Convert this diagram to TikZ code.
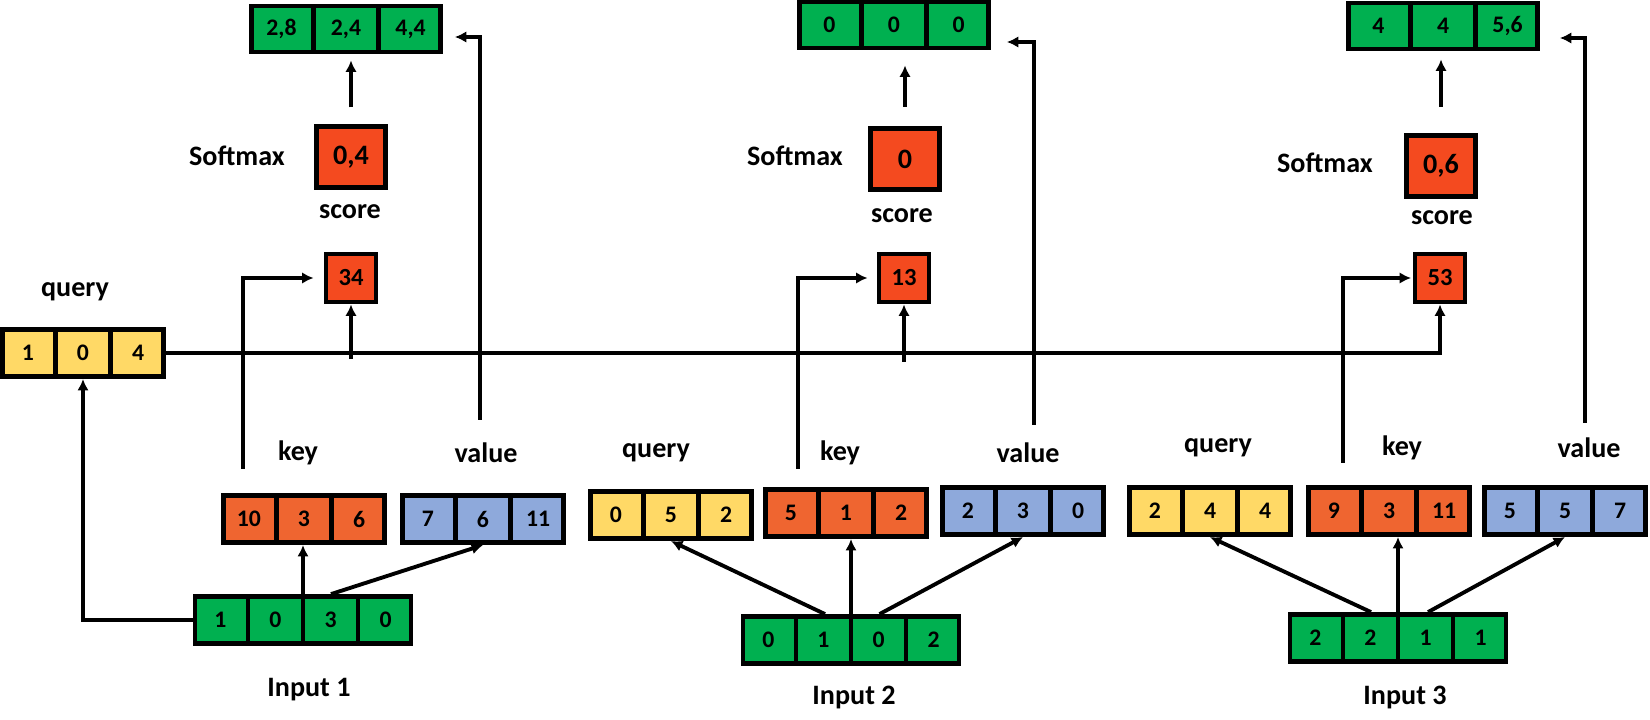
\documentclass[tikz,border=0pt]{standalone}
\usepackage{fontspec}
\setmainfont{Carlito}
\usepackage{xcolor}
\usepackage{tikz}
\usetikzlibrary{arrows.meta,shapes.multipart,calc}
\definecolor{qyellow}{HTML}{FFD966}
\definecolor{kred}{HTML}{EF6530}
\definecolor{sred}{HTML}{F44A1F}
\definecolor{vblue}{HTML}{8EA9DB}
\definecolor{ingreen}{HTML}{00B050}

\begin{document}
\begin{tikzpicture}[
x=0.02cm, y=-0.02cm,
vec/.style={rectangle split, rectangle split horizontal, rectangle split parts=3, draw, line width=2.6pt, fill=#1, inner xsep=0.01cm, inner ysep=0pt, text width=0.99cm, align=center, minimum height=0.95cm, font=\bfseries\fontsize{13.5}{16}\selectfont},
invec/.style={vec=ingreen, rectangle split parts=4, minimum height=0.945cm},
outvec/.style={vec=ingreen, text width=1.18cm, minimum height=0.925cm},
scorebox/.style={draw, line width=2.6pt, fill=sred, minimum width=1.005cm, minimum height=0.965cm, inner sep=0pt, font=\bfseries\fontsize{14}{16}\selectfont},
softbox/.style={scorebox, minimum width=1.39cm, minimum height=1.23cm, font=\bfseries\fontsize{16}{18}\selectfont},
lbl/.style={font=\bfseries\fontsize{16}{19}\selectfont, inner sep=0pt},
arr/.style={-{Latex[length=6.5pt,width=6.5pt]}, line width=2.2pt}
]
\useasboundingbox (0,0) rectangle (1650,720);

\node[vec=qyellow] (q1) at (83,353) {1\nodepart{two}0\nodepart{three}4};
\node[vec=kred] (k1) at (304,519) {10\nodepart{two}3\nodepart{three}6};
\node[vec=vblue] (v1) at (483,519) {7\nodepart{two}6\nodepart{three}11};
\node[invec] (in1) at (303,620) {1\nodepart{two}0\nodepart{three}3\nodepart{four}0};
\node[scorebox] (s1) at (351,278) {34};
\node[softbox] (sm1) at (351,157) {0,4};
\node[outvec] (o1) at (346,29) {2,8\nodepart{two}2,4\nodepart{three}4,4};
\node[lbl] (q1l) at (75,292) {query};
\node[lbl] (k1l) at (298,453) {key};
\node[lbl] (v1l) at (486,453) {value};
\node[lbl] (s1l) at (350,212) {score};
\node[lbl] (sm1l) at (237,156) {Softmax};
\node[lbl] (in1l) at (309,690) {Input 1};

\node[vec=qyellow] (q2) at (671,515) {0\nodepart{two}5\nodepart{three}2};
\node[vec=kred] (k2) at (846,513) {5\nodepart{two}1\nodepart{three}2};
\node[vec=vblue] (v2) at (1023,511) {2\nodepart{two}3\nodepart{three}0};
\node[invec] (in2) at (851,640) {0\nodepart{two}1\nodepart{three}0\nodepart{four}2};
\node[scorebox] (s2) at (904,278) {13};
\node[softbox] (sm2) at (905,159) {0};
\node[outvec] (o2) at (894,25) {0\nodepart{two}0\nodepart{three}0};
\node[lbl] (q2l) at (656,453) {query};
\node[lbl] (k2l) at (840,453) {key};
\node[lbl] (v2l) at (1028,453) {value};
\node[lbl] (s2l) at (902,216) {score};
\node[lbl] (sm2l) at (795,156) {Softmax};
\node[lbl] (in2l) at (854,697) {Input 2};

\node[vec=qyellow] (q3) at (1210,511) {2\nodepart{two}4\nodepart{three}4};
\node[vec=kred] (k3) at (1389,511) {9\nodepart{two}3\nodepart{three}11};
\node[vec=vblue] (v3) at (1565,511) {5\nodepart{two}5\nodepart{three}7};
\node[invec] (in3) at (1398,638) {2\nodepart{two}2\nodepart{three}1\nodepart{four}1};
\node[scorebox] (s3) at (1440,278) {53};
\node[softbox] (sm3) at (1441,166) {0,6};
\node[outvec] (o3) at (1443,26) {4\nodepart{two}4\nodepart{three}5,6};
\node[lbl] (q3l) at (1218,448) {query};
\node[lbl] (k3l) at (1402,448) {key};
\node[lbl] (v3l) at (1589,448) {value};
\node[lbl] (s3l) at (1442,218) {score};
\node[lbl] (sm3l) at (1325,163) {Softmax};
\node[lbl] (in3l) at (1405,697) {Input 3};

\coordinate (k1top) at ($(k1.north west)+(22,-24)$);
\coordinate (v1top) at ($(v1.north)+(-3,-73)$);
\coordinate (o1in) at ($(o1.east)+(12,8)$);
\coordinate (k2top) at ($(k2.north west)+(35,-18)$);
\coordinate (v2top) at ($(v2.north)+(11,-60)$);
\coordinate (o2in) at ($(o2.east)+(16,17)$);
\coordinate (k3top) at ($(k3.north west)+(37,-22)$);
\coordinate (v3top) at ($(v3.north)+(20,-62)$);
\coordinate (o3in) at ($(o3.east)+(20,12)$);

\draw[arr] (in1.west) -| (q1.south);
\draw[arr] (in1.north) -- (in1.north |- k1.south);
\draw[arr] ([xshift=0.56cm]in1.north) -- (v1.south);
\draw[arr, shorten >=0.2cm] (k1top) |- (s1.west);
\draw[arr] (v1top) |- (o1in);
\draw[arr, shorten <=0.33cm, shorten >=0.12cm] (sm1.north) -- (sm1.north |- o1.south);
\draw[arr, shorten <=-0.12cm] (s1.south |- q1.east) -- (s1.south);
\draw[arr] (q1.east) -| (s3.south);

\draw[arr] ([xshift=-0.52cm]in2.north) -- (q2.south);
\draw[arr] (in2.north) -- (in2.north |- k2.south);
\draw[arr] ([xshift=0.57cm]in2.north) -- (v2.south);
\draw[arr, shorten >=0.18cm] (k2top) |- (s2.west);
\draw[arr] (v2top) |- (o2in);
\draw[arr, shorten <=0.38cm, shorten >=0.3cm] (sm2.north) -- (sm2.north |- o2.south);
\draw[arr, shorten <=-0.17cm] (s2.south |- q1.east) -- (s2.south);

\draw[arr] ([xshift=-0.54cm]in3.north) -- (q3.south);
\draw[arr] (in3.north) -- (in3.north |- k3.south);
\draw[arr] ([xshift=0.6cm]in3.north) -- (v3.south);
\draw[arr, shorten >=0.03cm] (k3top) |- (s3.west);
\draw[arr] (v3top) |- (o3in);
\draw[arr, shorten <=0.52cm, shorten >=0.16cm] (sm3.north) -- (sm3.north |- o3.south);
\end{tikzpicture}
\end{document}
